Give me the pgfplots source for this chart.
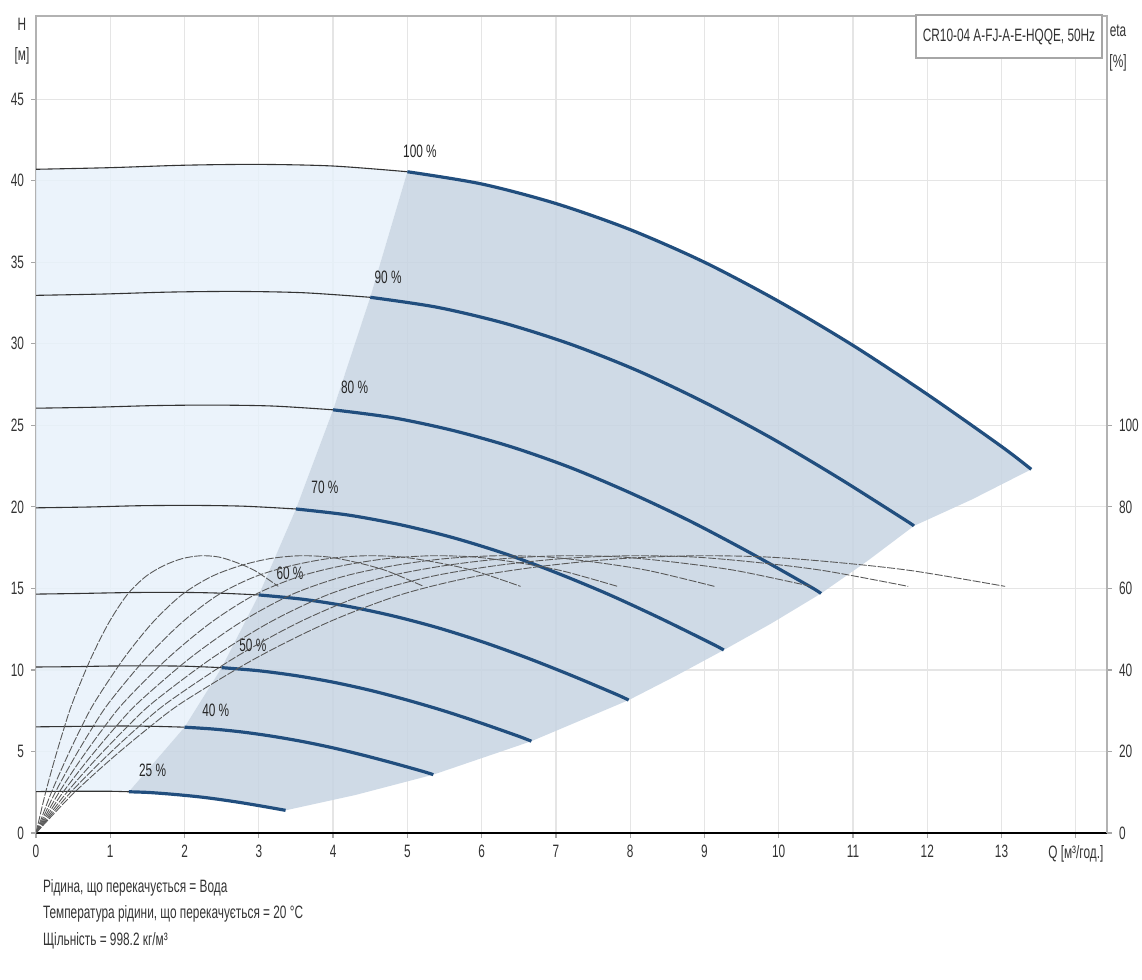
\documentclass[border=0pt]{standalone}
\usepackage{fontspec}
\setmainfont{Liberation Sans}[FakeStretch=0.66]
\usepackage{pgfplots}
\pgfplotsset{compat=1.18}
\definecolor{shade}{RGB}{199,212,226}
\definecolor{lightb}{RGB}{231,241,250}
\definecolor{curve}{RGB}{33,78,126}
\begin{document}
\begin{tikzpicture}
\path[use as bounding box] (0,0) rectangle (571bp,-490bp);
\begin{axis}[
  at={(18bp,-416.5bp)}, anchor=south west,
  scale only axis, width=535.5bp, height=408.5bp,
  xmin=0, xmax=14.42, ymin=0, ymax=50.1,
  xtick={0,1,...,14},
  xticklabels={0,1,2,3,4,5,6,7,8,9,10,11,12,13,{Q [м³/год.]}},
  ytick={0,5,...,45},
  xtick pos=left, ytick pos=left, tick align=outside,
  major tick length=2.5bp,
  tick style={gray!70, line width=0.6pt},
  grid=major, major grid style={gray!20, line width=0.6pt},
  axis line style={gray!60, line width=0.8pt},
  tick label style={font=\fontsize{9}{10}\selectfont, text=black!80},
  /pgf/number format/assume math mode=true,
]
% light blue region
\addplot[draw=none, fill=lightb, fill opacity=0.85] coordinates {
 (0,2.54) (0.5,2.56) (1.0,2.56) (1.25,2.53) (2.0,6.49) (2.5,10.14) (3.0,14.6) (3.5,19.87) (4.0,25.95) (4.5,32.85) (5,40.55)
 (4,40.9) (3,41.0) (2,40.95) (1,40.8) (0,40.7)} -- cycle;
% shaded operating region
\addplot[draw=none, fill=shade, fill opacity=0.85] coordinates {
 (1.25,2.53) (2.0,6.49) (2.5,10.14) (3.0,14.6) (3.5,19.87) (4.0,25.95) (4.5,32.85) (5,40.55)
 (6,39.8) (7,38.6) (8,37.0) (9,35.0) (10,32.6) (11,29.9) (12,26.9) (13,23.7) (13.4,22.3)
 (12.6,20.45) (11.82,18.83) (11.2,16.7) (10.57,14.69) (9.9,12.85) (9.26,11.22) (8.6,9.6) (7.98,8.15) (6.67,5.63) (5.35,3.58) (4.3,2.33) (3.36,1.39)
 (3.25,1.48) (3.0,1.68) (2.75,1.87) (2.5,2.04) (2.25,2.19) (2.0,2.31) (1.75,2.41) (1.5,2.49)} -- cycle;
% thin parts of pump curves
\pgfplotsset{thin/.style={black!80, line width=0.55pt, smooth}, thick/.style={curve, line width=1.6pt, smooth}}
\addplot[thin] coordinates {(0,40.7)(1,40.8)(2,40.95)(3,41.0)(4,40.9)(5,40.55)};
\addplot[thin] coordinates {(0,32.97)(0.9,33.05)(1.8,33.17)(2.7,33.21)(3.6,33.13)(4.5,32.85)};
\addplot[thin] coordinates {(0,26.05)(0.8,26.11)(1.6,26.21)(2.4,26.24)(3.2,26.18)(4.0,25.95)};
\addplot[thin] coordinates {(0,19.94)(0.7,19.99)(1.4,20.07)(2.1,20.09)(2.8,20.04)(3.5,19.87)};
\addplot[thin] coordinates {(0,14.65)(0.6,14.69)(1.2,14.74)(1.8,14.76)(2.4,14.72)(3.0,14.60)};
\addplot[thin] coordinates {(0,10.18)(0.5,10.2)(1.0,10.24)(1.5,10.25)(2.0,10.23)(2.5,10.14)};
\addplot[thin] coordinates {(0,6.51)(0.4,6.53)(0.8,6.55)(1.2,6.56)(1.6,6.54)(2.0,6.49)};
\addplot[thin] coordinates {(0,2.54)(0.25,2.55)(0.5,2.56)(0.75,2.56)(1.0,2.56)(1.25,2.53)};
% thick parts
\addplot[thick] coordinates {(5,40.55)(6,39.8)(7,38.6)(8,37.0)(9,35.0)(10,32.6)(11,29.9)(12,26.9)(13,23.7)(13.4,22.3)};
\addplot[thick] coordinates {(4.5,32.85)(5.4,32.24)(6.3,31.27)(7.2,29.97)(8.1,28.35)(9.0,26.41)(9.9,24.22)(10.8,21.79)(11.7,19.2)(11.82,18.83)};
\addplot[thick] coordinates {(4.0,25.95)(4.8,25.47)(5.6,24.7)(6.4,23.68)(7.2,22.4)(8.0,20.86)(8.8,19.14)(9.6,17.22)(10.4,15.17)(10.57,14.69)};
\addplot[thick] coordinates {(3.5,19.87)(4.2,19.5)(4.9,18.91)(5.6,18.13)(6.3,17.15)(7.0,15.97)(7.7,14.65)(8.4,13.18)(9.1,11.61)(9.26,11.22)};
\addplot[thick] coordinates {(3.0,14.6)(3.6,14.33)(4.2,13.9)(4.8,13.32)(5.4,12.6)(6.0,11.74)(6.6,10.76)(7.2,9.68)(7.8,8.53)(7.98,8.15)};
\addplot[thick] coordinates {(2.5,10.14)(3.0,9.95)(3.5,9.65)(4.0,9.25)(4.5,8.75)(5.0,8.15)(5.5,7.48)(6.0,6.73)(6.5,5.93)(6.67,5.63)};
\addplot[thick] coordinates {(2.0,6.49)(2.4,6.37)(2.8,6.18)(3.2,5.92)(3.6,5.6)(4.0,5.22)(4.4,4.78)(4.8,4.3)(5.2,3.79)(5.35,3.58)};
\addplot[thick] coordinates {(1.25,2.53)(1.5,2.49)(1.75,2.41)(2.0,2.31)(2.25,2.19)(2.5,2.04)(2.75,1.87)(3.0,1.68)(3.25,1.48)(3.36,1.39)};
% labels
\begin{scope}[every node/.style={font=\fontsize{9}{10}\selectfont, text=black!85}]
\node at (axis cs:5.17,41.8) {100 \%};
\node at (axis cs:4.74,34.1) {90 \%};
\node at (axis cs:4.29,27.3) {80 \%};
\node at (axis cs:3.89,21.2) {70 \%};
\node at (axis cs:3.42,15.95) {60 \%};
\node at (axis cs:2.92,11.5) {50 \%};
\node at (axis cs:2.42,7.5) {40 \%};
\node at (axis cs:1.57,3.87) {25 \%};
\end{scope}
\draw[black, line width=1.3pt] (rel axis cs:0,0) -- (rel axis cs:1,0);
\end{axis}
\begin{axis}[
  at={(18bp,-416.5bp)}, anchor=south west,
  scale only axis, width=535.5bp, height=408.5bp,
  xmin=0, xmax=14.42, ymin=0, ymax=200.4,
  axis x line=none, axis y line*=right,
  ytick={0,20,...,100}, tick align=outside,
  major tick length=2.5bp,
  tick style={gray!70, line width=0.6pt},
  axis line style={-, gray!60, line width=0.8pt},
  tick label style={font=\fontsize{9}{10}\selectfont, text=black!80},
  /pgf/number format/assume math mode=true,
]
\pgfplotsset{eta/.style={black!65, line width=0.45pt, dash pattern=on 4bp off 0.8bp, smooth}}
\addplot[eta] coordinates {(0,0)(0.492,9.5)(0.984,17.7)(1.476,25.2)(1.968,32.0)(2.952,42.8)(3.936,51.7)(4.92,58.5)(5.904,62.9)(6.888,65.6)(7.872,67.3)(8.856,68.0)(9.84,67.7)(10.824,66.3)(11.808,64.3)(13.048,60.5)};
\addplot[eta] coordinates {(0,0)(0.443,9.5)(0.886,17.7)(1.328,25.2)(1.771,32.0)(2.657,42.8)(3.542,51.7)(4.428,58.5)(5.314,62.9)(6.199,65.6)(7.085,67.3)(7.970,68.0)(8.856,67.7)(9.742,66.3)(10.627,64.3)(11.743,60.5)};
\addplot[eta] coordinates {(0,0)(0.394,9.5)(0.787,17.7)(1.181,25.2)(1.574,32.0)(2.362,42.8)(3.149,51.7)(3.936,58.5)(4.723,62.9)(5.510,65.6)(6.298,67.3)(7.085,68.0)(7.872,67.7)(8.659,66.3)(9.446,64.3)(10.438,60.5)};
\addplot[eta] coordinates {(0,0)(0.344,9.5)(0.689,17.7)(1.033,25.2)(1.378,32.0)(2.066,42.8)(2.755,51.7)(3.444,58.5)(4.133,62.9)(4.822,65.6)(5.510,67.3)(6.199,68.0)(6.888,67.7)(7.577,66.3)(8.266,64.3)(9.134,60.5)};
\addplot[eta] coordinates {(0,0)(0.295,9.5)(0.590,17.7)(0.886,25.2)(1.181,32.0)(1.771,42.8)(2.362,51.7)(2.952,58.5)(3.542,62.9)(4.133,65.6)(4.723,67.3)(5.314,68.0)(5.904,67.7)(6.494,66.3)(7.085,64.3)(7.829,60.5)};
\addplot[eta] coordinates {(0,0)(0.246,9.5)(0.492,17.7)(0.738,25.2)(0.984,32.0)(1.476,42.8)(1.968,51.7)(2.46,58.5)(2.952,62.9)(3.444,65.6)(3.936,67.3)(4.428,68.0)(4.92,67.7)(5.412,66.3)(5.904,64.3)(6.524,60.5)};
\addplot[eta] coordinates {(0,0)(0.197,9.5)(0.394,17.7)(0.590,25.2)(0.787,32.0)(1.181,42.8)(1.574,51.7)(1.968,58.5)(2.362,62.9)(2.755,65.6)(3.149,67.3)(3.542,68.0)(3.936,67.7)(4.330,66.3)(4.723,64.3)(5.219,60.5)};
\addplot[eta] coordinates {(0,0)(0.123,9.5)(0.246,17.7)(0.369,25.2)(0.492,32.0)(0.738,42.8)(0.984,51.7)(1.23,58.5)(1.476,62.9)(1.722,65.6)(1.968,67.3)(2.214,68.0)(2.46,67.7)(2.706,66.3)(2.952,64.3)(3.262,60.5)};
\end{axis}
\begin{scope}[every node/.style={font=\fontsize{9}{10}\selectfont, text=black!80}]
\node at (11bp,-12bp) {H};
\node at (11bp,-28bp) {[м]};
\node at (559bp,-15.5bp) {eta};
\node at (559bp,-31.5bp) {[\%]};
\node[anchor=west] at (18bp,-444bp) {Рідина, що перекачується = Вода};
\node[anchor=west] at (18bp,-457bp) {Температура рідини, що перекачується = 20 °C};
\node[anchor=west] at (18bp,-470.5bp) {Щільність = 998.2 кг/м³};
\node[draw=gray!70, fill=white, line width=0.6pt, minimum width=93bp, minimum height=21.5bp, inner sep=0pt] at (504.5bp,-18.25bp) {CR10-04 A-FJ-A-E-HQQE, 50Hz};
\end{scope}
\end{tikzpicture}
\end{document}
